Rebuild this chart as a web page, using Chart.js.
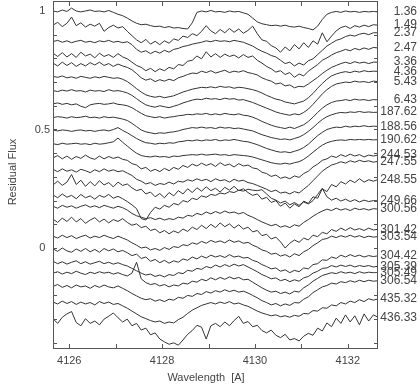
<!DOCTYPE html>
<html><head><meta charset="utf-8">
<script src="https://cdn.jsdelivr.net/npm/chart.js@4/dist/chart.umd.min.js"></script>
<style>html,body{margin:0;padding:0;background:#fff;}#wrap{width:420px;height:387px;position:relative;}</style>
</head><body><div id="wrap"><canvas id="c" width="420" height="387"></canvas></div>
<script>
// ---- data ----
const wavelengths = [
4125.65,4125.75,4125.85,4125.95,4126.05,4126.15,4126.25,4126.35,4126.45,4126.55,
4126.65,4126.75,4126.85,4126.95,4127.05,4127.15,4127.25,4127.35,4127.45,4127.55,
4127.65,4127.75,4127.85,4127.95,4128.05,4128.15,4128.25,4128.35,4128.45,4128.55,
4128.65,4128.75,4128.85,4128.95,4129.05,4129.15,4129.25,4129.35,4129.45,4129.55,
4129.65,4129.75,4129.85,4129.95,4130.05,4130.15,4130.25,4130.35,4130.45,4130.55,
4130.65,4130.75,4130.85,4130.95,4131.05,4131.15,4131.25,4131.35,4131.45,4131.55,
4131.65,4131.75,4131.85,4131.95,4132.05,4132.15,4132.25,4132.35,4132.45,4132.55,
4132.65];
const phases = ['1.36','1.49','2.37','2.47','3.36','4.36','5.43','6.43','187.62','188.56','190.62','244.53','247.55','248.55','249.66','300.56','301.42','303.54','304.42','305.39','305.49','306.54','435.32','436.33'];
const offsets = [0,-0.056,-0.112,-0.168,-0.224,-0.28,-0.336,-0.392,-0.448,-0.504,-0.56,-0.616,-0.672,-0.728,-0.784,-0.84,-0.896,-0.952,-1.008,-1.064,-1.12,-1.176,-1.232,-1.288];
const xTickValues = [4126,4128,4130,4132];
const xMinorValues = [4126,4127,4128,4129,4130,4131,4132];
const yTickValues = [0,0.5,1];
const yMinorValues = [-0.4,-0.3,-0.2,-0.1,0,0.1,0.2,0.3,0.4,0.5,0.6,0.7,0.8,0.9,1.0];

const flux_1_36 = [1.000,0.996,1.004,0.998,1.012,1.000,0.996,1.000,1.004,0.998,1.000,0.996,1.002,0.994,0.986,0.980,0.970,0.958,0.948,0.942,0.944,0.938,0.934,0.936,0.930,0.934,0.928,0.930,0.926,0.924,0.950,0.994,1.000,0.996,1.002,0.996,0.998,0.994,1.000,0.996,0.998,0.992,0.986,0.970,0.954,0.946,0.942,0.938,0.940,0.936,0.940,0.934,0.932,0.936,0.930,0.926,0.920,0.936,0.964,0.986,0.994,0.998,0.994,1.000,0.996,0.998,0.994,0.998,0.996,0.998,0.996];
const flux_1_49 = [0.996,1.008,0.990,1.004,1.030,0.994,1.006,0.988,1.000,0.992,1.004,0.970,0.986,0.996,0.984,0.990,0.970,0.952,0.934,0.922,0.936,0.916,0.928,0.914,0.930,0.920,0.938,0.932,0.950,0.944,0.960,0.952,0.970,0.994,0.972,0.960,0.978,0.964,0.982,0.966,0.980,0.962,0.974,0.992,0.960,0.934,0.928,0.910,0.900,0.882,0.904,0.888,0.914,0.896,0.922,0.902,0.930,0.916,0.964,0.926,0.950,0.972,0.986,0.992,0.982,0.994,0.988,0.996,0.990,0.998,0.996];
const flux_2_37 = [0.983,0.988,0.980,0.986,0.978,0.984,0.988,0.980,0.984,0.978,0.986,0.982,0.988,0.980,0.984,0.978,0.982,0.970,0.950,0.938,0.944,0.932,0.942,0.934,0.946,0.938,0.950,0.954,0.962,0.966,0.972,0.976,0.980,0.986,0.982,0.988,0.984,0.986,0.982,0.988,0.984,0.980,0.972,0.964,0.952,0.942,0.934,0.924,0.918,0.904,0.890,0.896,0.880,0.892,0.884,0.902,0.910,0.928,0.946,0.964,0.976,0.988,0.994,1.004,1.010,1.006,1.014,1.018,1.012,1.020,1.020];
const flux_2_47 = [0.990,0.976,0.992,0.974,0.988,0.972,0.994,0.978,0.986,0.970,0.990,0.976,0.984,0.972,0.988,0.974,0.966,0.952,0.938,0.930,0.916,0.926,0.912,0.924,0.916,0.930,0.924,0.942,0.938,0.956,0.960,0.978,0.966,0.996,0.974,0.988,0.972,0.986,0.976,0.982,0.970,0.984,0.972,0.978,0.960,0.948,0.934,0.924,0.910,0.916,0.900,0.908,0.888,0.902,0.894,0.914,0.928,0.942,0.960,0.970,0.982,0.992,0.998,1.006,1.000,1.010,1.004,1.012,1.006,1.014,1.012];
const flux_3_36 = [1.004,0.992,1.008,0.994,1.006,0.990,1.002,0.992,1.006,0.996,1.008,0.994,1.002,0.990,1.000,0.992,0.986,0.976,0.960,0.942,0.932,0.938,0.926,0.934,0.928,0.936,0.930,0.942,0.948,0.956,0.962,0.960,0.970,0.964,0.972,0.962,0.968,0.974,0.964,0.970,0.966,0.972,0.964,0.960,0.954,0.942,0.934,0.928,0.916,0.920,0.908,0.912,0.900,0.906,0.904,0.916,0.930,0.944,0.960,0.974,0.986,0.994,1.002,1.008,1.002,1.010,1.004,1.008,1.002,1.008,1.008];
const flux_4_36 = [1.004,1.000,1.006,0.998,1.002,0.996,1.004,1.000,0.996,1.002,0.998,1.004,1.000,0.996,0.998,0.992,0.982,0.968,0.952,0.938,0.926,0.920,0.916,0.920,0.914,0.918,0.922,0.930,0.938,0.944,0.950,0.954,0.958,0.956,0.960,0.956,0.962,0.958,0.960,0.954,0.958,0.956,0.952,0.948,0.942,0.934,0.924,0.916,0.908,0.904,0.896,0.892,0.888,0.894,0.900,0.914,0.932,0.954,0.974,0.992,1.006,1.014,1.020,1.024,1.020,1.026,1.022,1.028,1.024,1.026,1.025];
const flux_5_43 = [1.000,0.996,1.002,0.998,1.004,0.998,1.000,0.994,1.002,0.998,1.000,0.996,1.004,0.998,1.000,0.996,0.990,0.980,0.966,0.952,0.940,0.934,0.930,0.936,0.932,0.928,0.934,0.940,0.948,0.954,0.960,0.964,0.962,0.968,0.964,0.966,0.962,0.968,0.964,0.966,0.960,0.962,0.956,0.950,0.942,0.934,0.926,0.918,0.910,0.904,0.900,0.896,0.902,0.898,0.908,0.922,0.942,0.964,0.986,1.004,1.018,1.028,1.032,1.036,1.034,1.040,1.036,1.038,1.034,1.040,1.038];
const flux_6_43 = [1.000,1.004,0.998,1.002,0.996,1.000,0.990,0.984,0.996,1.000,1.002,0.998,1.000,1.004,0.998,0.996,0.992,0.984,0.972,0.960,0.950,0.946,0.942,0.946,0.940,0.944,0.946,0.950,0.952,0.956,0.954,0.958,0.956,0.960,0.954,0.958,0.954,0.960,0.956,0.954,0.958,0.952,0.950,0.944,0.936,0.926,0.918,0.910,0.904,0.900,0.896,0.902,0.896,0.904,0.912,0.926,0.944,0.964,0.982,0.996,1.006,1.012,1.014,1.018,1.014,1.020,1.016,1.018,1.014,1.018,1.017];
const flux_187_62 = [0.998,1.002,1.000,0.996,1.002,0.998,1.000,1.004,0.998,1.000,0.996,1.002,0.998,1.000,0.996,0.992,0.986,0.974,0.960,0.946,0.938,0.934,0.930,0.934,0.932,0.936,0.938,0.942,0.948,0.952,0.956,0.954,0.958,0.954,0.956,0.952,0.958,0.954,0.956,0.952,0.954,0.950,0.946,0.942,0.934,0.926,0.920,0.914,0.910,0.906,0.908,0.904,0.910,0.916,0.926,0.940,0.956,0.974,0.990,1.002,1.010,1.016,1.020,1.018,1.022,1.020,1.024,1.020,1.022,1.020,1.021];
const flux_188_56 = [1.002,0.998,1.002,1.000,0.996,1.000,1.002,0.998,1.000,0.996,1.000,1.002,0.998,1.004,1.012,1.000,0.990,0.978,0.966,0.956,0.948,0.946,0.942,0.946,0.944,0.948,0.946,0.952,0.954,0.958,0.956,0.960,0.956,0.960,0.958,0.962,0.956,0.960,0.958,0.962,0.958,0.954,0.952,0.946,0.940,0.932,0.924,0.918,0.912,0.908,0.910,0.906,0.912,0.918,0.928,0.942,0.960,0.978,0.992,1.004,1.010,1.014,1.012,1.018,1.014,1.018,1.016,1.020,1.016,1.018,1.017];
const flux_190_62 = [1.000,0.996,1.002,0.998,1.000,1.002,0.998,1.000,0.996,1.002,0.998,1.000,1.004,1.008,1.024,1.006,0.990,0.974,0.960,0.950,0.946,0.944,0.948,0.944,0.946,0.942,0.948,0.946,0.950,0.952,0.954,0.952,0.956,0.952,0.954,0.956,0.952,0.954,0.950,0.954,0.952,0.950,0.948,0.944,0.938,0.932,0.926,0.920,0.916,0.914,0.918,0.914,0.920,0.924,0.934,0.948,0.964,0.980,0.994,1.004,1.010,1.014,1.016,1.014,1.018,1.016,1.018,1.016,1.018,1.016,1.017];
const flux_244_53 = [0.996,1.006,0.992,1.004,0.990,1.002,0.994,1.008,0.996,0.990,1.004,0.992,1.002,0.994,1.000,0.990,0.986,0.972,0.966,0.950,0.956,0.940,0.948,0.938,0.952,0.942,0.956,0.948,0.964,0.956,0.970,0.962,0.974,0.964,0.972,0.960,0.976,0.964,0.970,0.958,0.972,0.962,0.966,0.954,0.950,0.936,0.930,0.918,0.924,0.910,0.916,0.908,0.920,0.914,0.930,0.940,0.958,0.970,0.986,0.992,1.004,0.998,1.010,1.002,1.012,1.004,1.010,1.000,1.008,1.004,1.008];
const flux_247_55 = [1.004,0.994,1.006,0.996,1.002,0.992,1.004,0.998,0.990,1.002,0.994,1.006,0.996,1.002,0.994,0.998,0.988,0.978,0.962,0.954,0.942,0.948,0.936,0.944,0.940,0.950,0.942,0.954,0.950,0.960,0.954,0.964,0.956,0.962,0.952,0.964,0.956,0.960,0.950,0.962,0.954,0.958,0.948,0.944,0.936,0.928,0.920,0.910,0.916,0.904,0.908,0.900,0.910,0.904,0.920,0.936,0.956,0.976,0.996,1.010,1.022,1.028,1.036,1.030,1.040,1.034,1.042,1.036,1.040,1.034,1.038];
const flux_248_55 = [0.994,1.010,0.992,1.006,1.038,0.996,1.014,0.988,1.008,0.990,1.012,0.994,1.004,0.986,1.006,0.992,0.998,0.982,0.970,0.976,0.956,0.964,0.944,0.958,0.940,0.962,0.948,0.970,0.956,0.978,0.962,0.982,0.968,0.986,0.970,0.980,0.964,0.984,0.972,0.988,0.970,0.978,0.962,0.950,0.956,0.934,0.942,0.920,0.928,0.904,0.918,0.896,0.914,0.902,0.926,0.916,0.944,0.938,0.978,0.966,0.996,0.986,1.008,0.998,1.014,1.004,1.020,1.006,1.016,1.010,1.017];
const flux_249_66 = [1.008,0.996,1.012,0.998,1.006,0.992,1.010,0.996,1.004,0.990,1.006,0.998,1.010,0.994,1.002,0.992,0.980,0.966,0.950,0.908,0.902,0.934,0.956,0.948,0.964,0.956,0.972,0.966,0.984,0.978,0.994,0.988,1.004,0.998,1.010,1.006,1.016,1.012,1.022,1.018,1.028,1.024,1.032,1.028,1.026,1.030,1.012,0.994,0.986,0.974,0.982,0.966,0.976,0.964,0.978,0.970,0.984,1.010,1.036,1.000,0.986,0.994,0.982,0.990,0.980,0.988,0.978,0.986,0.980,0.984,0.983];
const flux_300_56 = [1.016,1.008,1.020,1.012,1.018,1.008,1.016,1.022,1.012,1.018,1.010,1.020,1.014,1.008,1.016,1.010,1.000,0.986,0.976,0.970,0.964,0.968,0.960,0.966,0.958,0.964,0.960,0.970,0.966,0.978,0.974,0.986,0.980,0.992,0.984,0.994,0.986,0.996,0.988,0.992,0.984,0.990,0.978,0.970,0.960,0.950,0.942,0.934,0.940,0.928,0.934,0.926,0.938,0.932,0.948,0.960,0.974,0.986,0.996,1.004,0.998,1.008,1.000,1.006,0.998,1.008,1.002,1.006,1.000,1.006,1.004];
const flux_301_42 = [1.018,1.004,1.022,1.008,1.026,1.006,1.020,1.000,1.014,1.024,1.006,1.018,1.002,1.016,1.008,1.020,1.004,0.992,0.998,0.982,0.988,0.970,0.976,0.960,0.970,0.956,0.968,0.960,0.976,0.966,0.984,0.974,0.992,0.978,0.996,0.982,1.002,0.986,0.998,0.980,0.994,0.976,0.984,0.964,0.970,0.948,0.954,0.934,0.942,0.922,0.896,0.916,0.930,0.920,0.938,0.930,0.950,0.944,0.962,0.956,0.974,0.966,0.980,0.970,0.982,0.972,0.978,0.970,0.980,0.972,0.975];
const flux_303_54 = [1.002,0.994,1.006,0.996,1.004,0.992,1.000,1.006,0.994,1.002,0.996,1.006,0.998,0.992,1.002,0.994,0.986,0.974,0.964,0.952,0.956,0.944,0.950,0.942,0.954,0.946,0.958,0.954,0.966,0.962,0.974,0.968,0.980,0.972,0.984,0.976,0.982,0.974,0.986,0.976,0.982,0.972,0.976,0.964,0.956,0.944,0.938,0.926,0.930,0.918,0.924,0.914,0.928,0.920,0.936,0.946,0.962,0.974,0.988,0.992,1.002,0.996,1.004,0.998,1.006,0.998,1.004,0.996,1.002,0.998,1.000];
const flux_304_42 = [1.004,0.994,1.008,0.996,0.990,1.004,0.994,1.006,0.992,1.002,0.990,1.006,0.996,1.004,0.992,0.998,0.988,0.976,0.982,0.964,0.970,0.952,0.960,0.946,0.956,0.944,0.954,0.948,0.962,0.956,0.970,0.962,0.974,0.966,0.978,0.970,0.976,0.968,0.980,0.970,0.974,0.966,0.968,0.956,0.950,0.938,0.930,0.920,0.924,0.910,0.916,0.904,0.914,0.908,0.924,0.920,0.938,0.942,0.958,0.956,0.970,0.964,0.978,0.970,0.980,0.972,0.978,0.970,0.976,0.972,0.975];
const flux_305_39 = [1.008,0.998,1.006,0.996,1.004,1.010,0.998,1.006,0.996,1.002,1.008,0.998,1.004,0.996,1.002,0.994,0.988,0.978,0.968,0.958,0.950,0.954,0.944,0.950,0.942,0.952,0.948,0.960,0.956,0.970,0.966,0.978,0.974,0.986,0.980,0.992,0.984,0.994,0.986,0.996,0.988,0.994,0.984,0.974,0.964,0.952,0.944,0.934,0.938,0.926,0.932,0.922,0.930,0.924,0.938,0.944,0.958,0.966,0.978,0.980,0.990,0.984,0.992,0.986,0.992,0.984,0.990,0.986,0.990,0.984,0.987];
const flux_305_49 = [1.014,1.020,1.010,1.018,1.012,1.022,1.014,1.008,1.018,1.012,1.020,1.014,1.018,1.010,1.016,1.008,1.002,1.014,1.060,0.990,0.974,0.966,0.970,0.960,0.966,0.956,0.964,0.960,0.972,0.968,0.980,0.976,0.988,0.982,0.994,0.986,0.996,0.988,0.998,0.990,0.996,0.986,0.988,0.976,0.964,0.952,0.942,0.934,0.938,0.928,0.934,0.926,0.938,0.934,0.952,0.964,0.980,0.992,1.004,1.010,1.016,1.012,1.020,1.014,1.018,1.012,1.020,1.014,1.018,1.016,1.017];
const flux_306_54 = [1.014,1.022,1.010,1.018,1.008,1.020,1.012,1.016,1.006,1.018,1.010,1.020,1.012,1.008,1.016,1.006,0.996,0.984,0.974,0.964,0.958,0.962,0.952,0.958,0.950,0.960,0.956,0.968,0.964,0.976,0.972,0.984,0.980,0.992,0.986,0.996,0.990,1.000,0.992,0.998,0.990,0.994,0.986,0.976,0.966,0.954,0.946,0.936,0.942,0.932,0.940,0.934,0.946,0.944,0.960,0.970,0.988,1.000,1.012,1.018,1.028,1.024,1.034,1.030,1.038,1.032,1.040,1.034,1.040,1.036,1.038];
const flux_435_32 = [1.004,0.996,1.008,0.998,1.006,0.994,1.004,0.996,1.002,0.992,1.006,0.998,1.004,0.994,0.998,0.988,0.978,0.966,0.954,0.942,0.934,0.926,0.920,0.924,0.914,0.920,0.916,0.930,0.940,0.956,0.970,0.980,0.990,0.996,1.002,0.996,1.004,0.998,1.006,0.996,1.000,0.992,0.986,0.976,0.966,0.958,0.952,0.946,0.950,0.942,0.946,0.940,0.948,0.944,0.956,0.954,0.968,0.966,0.980,0.978,0.992,0.988,1.002,0.996,1.008,1.002,1.014,1.006,1.018,1.012,1.017];
const flux_436_33 = [0.990,0.970,0.996,1.010,1.020,0.974,0.960,0.990,0.970,0.980,0.964,0.988,1.000,1.014,0.994,0.976,0.988,0.960,0.970,0.942,0.950,0.922,0.930,0.904,0.892,0.882,0.888,0.878,0.900,0.924,0.940,0.962,0.954,0.904,0.960,0.970,0.956,0.976,0.960,0.982,1.000,0.970,0.978,0.956,0.962,0.940,0.930,0.942,0.920,0.910,0.924,0.900,0.906,0.896,0.916,0.928,0.920,0.950,0.938,0.972,0.956,0.992,0.970,1.006,0.976,1.002,0.964,1.010,0.980,1.006,0.996];

const spectra = [flux_1_36,flux_1_49,flux_2_37,flux_2_47,flux_3_36,flux_4_36,flux_5_43,flux_6_43,flux_187_62,flux_188_56,flux_190_62,flux_244_53,flux_247_55,flux_248_55,flux_249_66,flux_300_56,flux_301_42,flux_303_54,flux_304_42,flux_305_39,flux_305_49,flux_306_54,flux_435_32,flux_436_33];

// ---- chart ----
const FONT = '"Liberation Sans", Arial, Helvetica, sans-serif';
const TEXT = '#444';
Chart.defaults.font.family = FONT;
Chart.defaults.color = TEXT;

const datasets = spectra.map((f, k) => ({
  label: phases[k],
  data: f.map((v, i) => ({x: wavelengths[i], y: v + offsets[k]})),
  borderColor: '#333', borderWidth: 1, pointRadius: 0, tension: 0, fill: false
}));

const decor = {
  id: 'decor',
  afterDraw(chart) {
    const {ctx, chartArea: a, scales: {x, y}} = chart;
    ctx.save();
    ctx.strokeStyle = '#555'; ctx.lineWidth = 1;
    ctx.strokeRect(a.left + 0.5, a.top + 0.5, a.right - a.left - 1, a.bottom - a.top - 1);
    ctx.beginPath();
    xMinorValues.forEach(v => {
      const px = Math.round(x.getPixelForValue(v)) + 0.5;
      ctx.moveTo(px, a.bottom); ctx.lineTo(px, a.bottom - 5);
      ctx.moveTo(px, a.top); ctx.lineTo(px, a.top + 5);
    });
    yMinorValues.forEach(v => {
      const py = Math.round(y.getPixelForValue(v)) + 0.5;
      ctx.moveTo(a.left, py); ctx.lineTo(a.left + 4, py);
      ctx.moveTo(a.right, py); ctx.lineTo(a.right - 4, py);
    });
    ctx.stroke();
    ctx.fillStyle = TEXT;
    ctx.font = '12px ' + FONT;
    ctx.textAlign = 'right'; ctx.textBaseline = 'middle';
    chart.data.datasets.forEach((ds, k) => {
      const last = ds.data[ds.data.length - 1];
      ctx.fillText(phases[k], 417, y.getPixelForValue(last.y));
    });
    ctx.font = '11px ' + FONT;
    ctx.textAlign = 'center';
    ctx.fillText('Wavelength  [A]', 206, 378);
    ctx.translate(13, 172); ctx.rotate(-Math.PI / 2);
    ctx.fillText('Residual Flux', 0, 0);
    ctx.restore();
  }
};

new Chart(document.getElementById('c'), {
  type: 'line',
  data: {datasets},
  options: {
    responsive: false, animation: false, devicePixelRatio: 1,
    layout: {padding: {top: 1, right: 42, bottom: 0, left: 0}},
    plugins: {legend: {display: false}, tooltip: {enabled: false}},
    scales: {
      x: {
        type: 'linear', min: 4125.65, max: 4132.65,
        grid: {display: false, drawTicks: false}, border: {display: false},
        afterBuildTicks: s => { s.ticks = xTickValues.map(v => ({value: v})); },
        ticks: {autoSkip: false, maxRotation: 0, padding: 5, color: TEXT, font: {size: 11}, callback: v => String(v)},
        afterFit: s => { s.height = 38; s.paddingLeft = 0; s.paddingRight = 0; }
      },
      y: {
        type: 'linear', min: -0.426, max: 1.042,
        grid: {display: false, drawTicks: false}, border: {display: false},
        afterBuildTicks: s => { s.ticks = yTickValues.map(v => ({value: v})); },
        ticks: {autoSkip: false, crossAlign: 'center', padding: 3, color: TEXT, font: {size: 11}, callback: v => String(v)},
        afterFit: s => { s.width = 53; s.paddingTop = 0; s.paddingBottom = 0; }
      }
    }
  },
  plugins: [decor]
});
</script>
</body></html>
